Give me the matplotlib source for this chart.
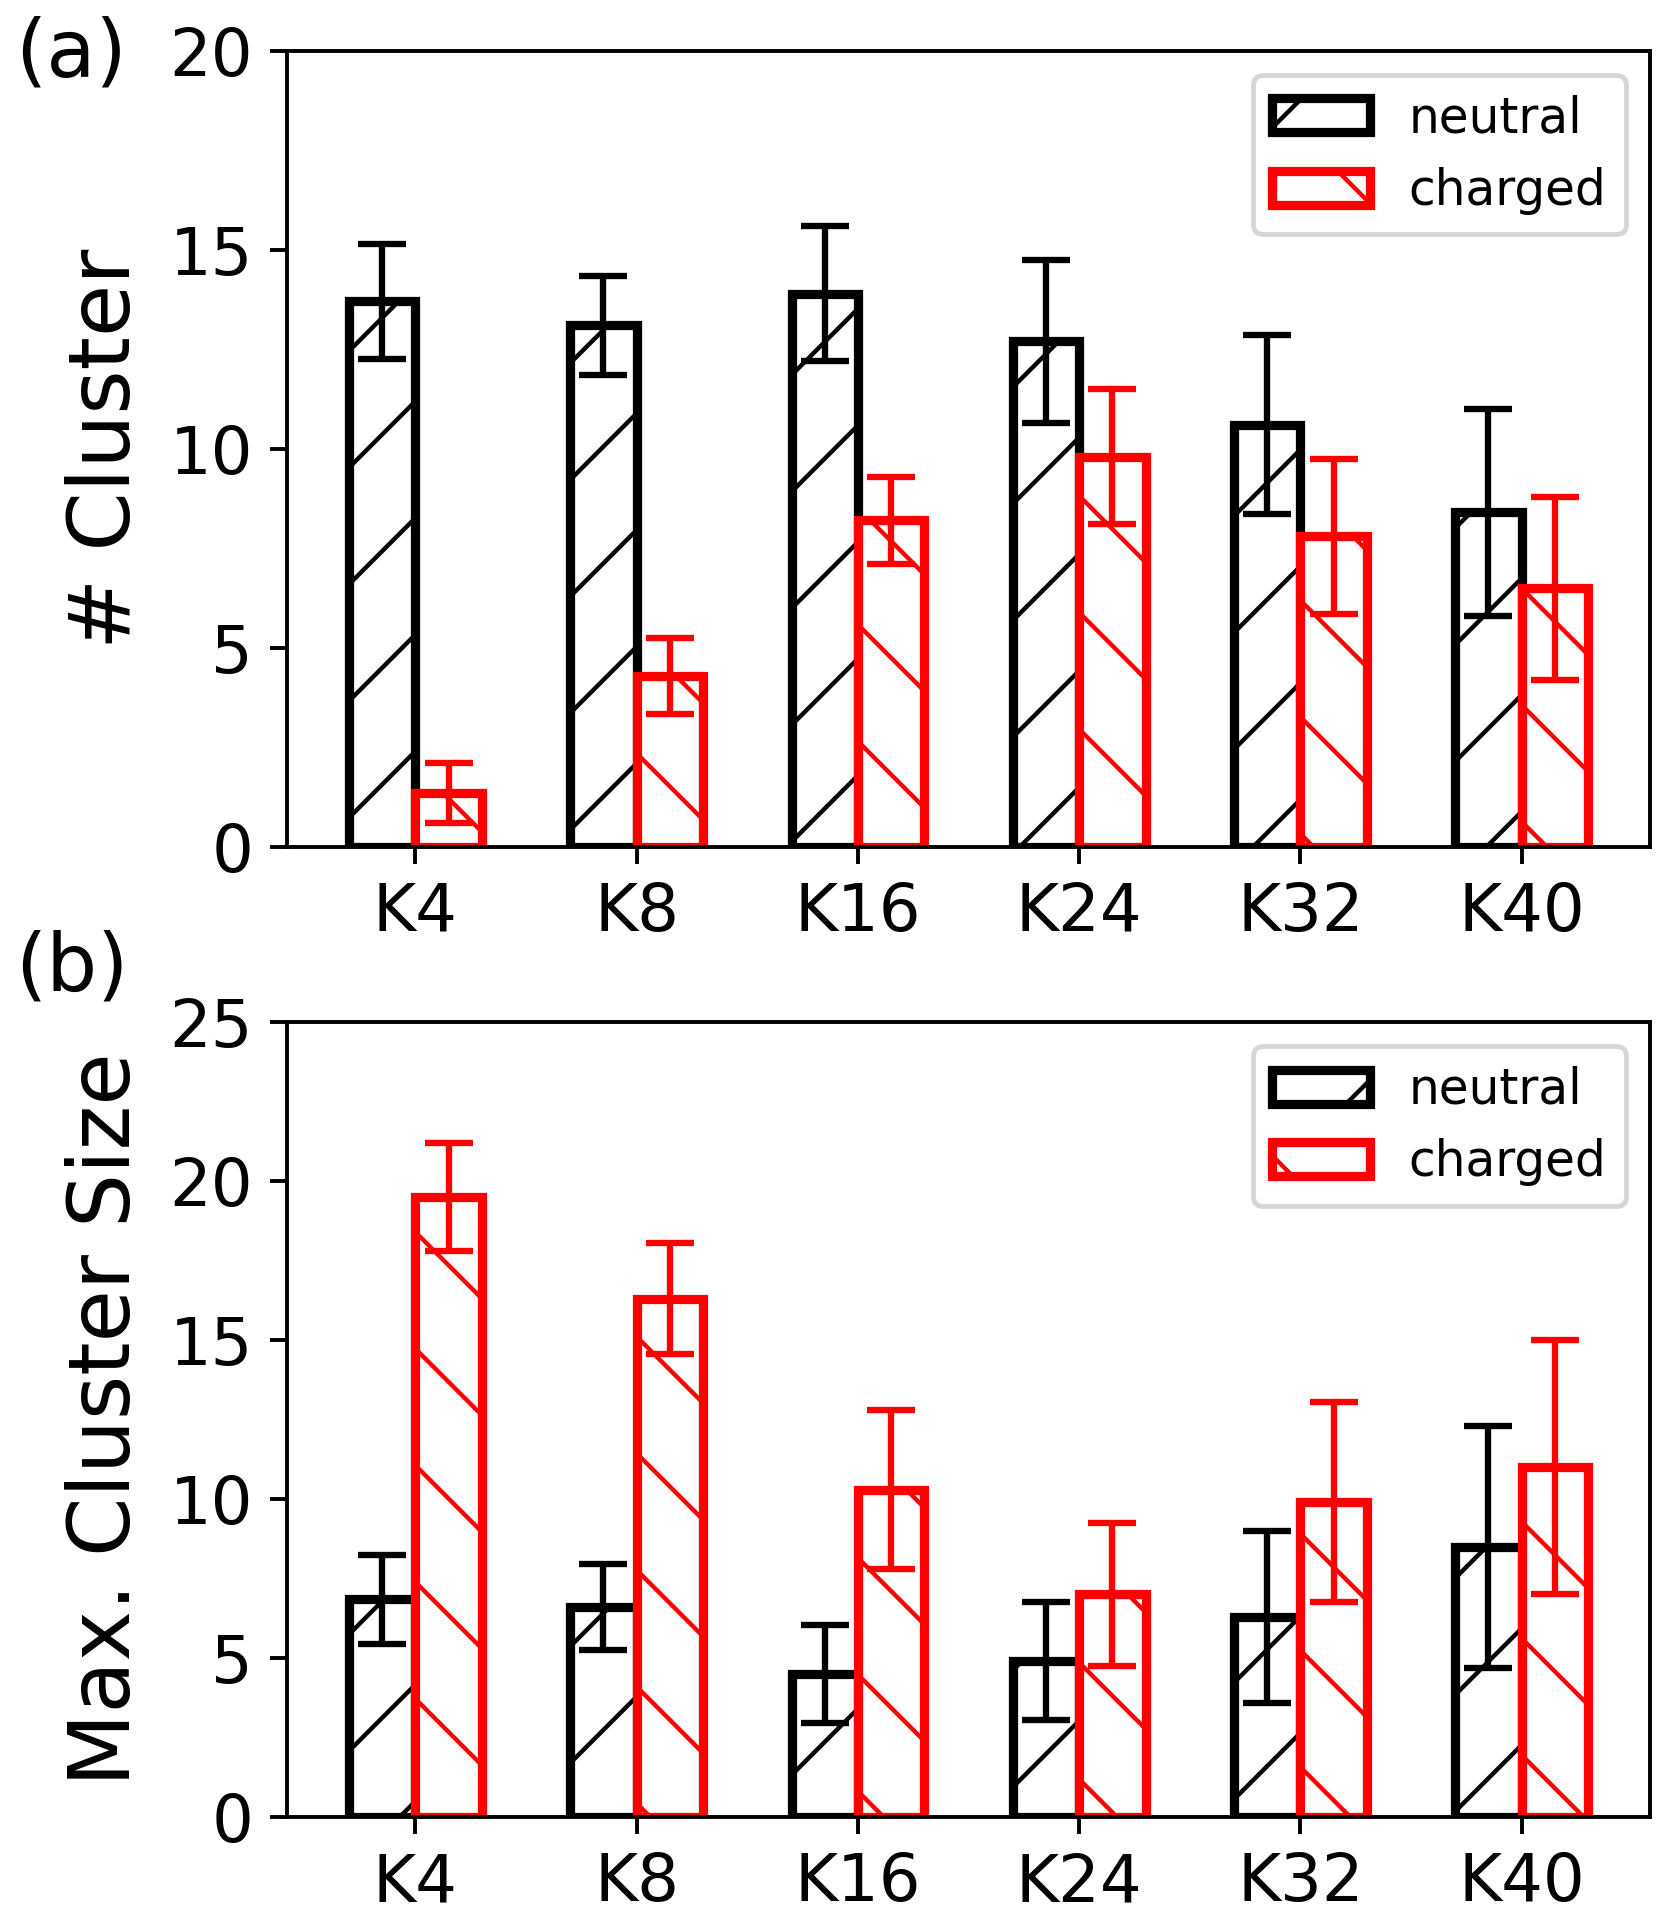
import numpy as np
import matplotlib
matplotlib.use("Agg")
import matplotlib.pyplot as plt

categories = ["K4", "K8", "K16", "K24", "K32", "K40"]

# (a) number of clusters
neutral_count = [13.7, 13.1, 13.9, 12.7, 10.6, 8.4]
neutral_count_err = [1.45, 1.25, 1.7, 2.05, 2.25, 2.6]
charged_count = [1.35, 4.3, 8.2, 9.8, 7.8, 6.5]
charged_count_err = [0.75, 0.95, 1.1, 1.7, 1.95, 2.3]

# (b) max. cluster size
neutral_size = [6.85, 6.6, 4.5, 4.9, 6.3, 8.5]
neutral_size_err = [1.4, 1.35, 1.55, 1.85, 2.7, 3.8]
charged_size = [19.5, 16.3, 10.3, 7.0, 9.9, 11.0]
charged_size_err = [1.7, 1.75, 2.5, 2.25, 3.15, 4.0]

DPI = 350
plt.rcParams["hatch.linewidth"] = 0.9

fig = plt.figure(figsize=(1666 / DPI, 1920 / DPI), dpi=DPI)
ax_a = fig.add_axes([0.1723, 0.5589, 0.9904 - 0.1723, 0.9736 - 0.5589])
ax_b = fig.add_axes([0.1723, 0.0536, 0.9904 - 0.1723, 0.4677 - 0.0536])

x = np.arange(len(categories))
width = 0.3


def draw_panel(ax, neutral, neutral_err, charged, charged_err, ylabel, ymax):
    err_style = dict(elinewidth=1.3, capsize=5, capthick=1.3)
    ax.bar(x - width / 2, neutral, width, yerr=neutral_err,
           facecolor="white", edgecolor="black", linewidth=1.9, hatch="/",
           label="neutral", error_kw=dict(ecolor="black", **err_style))
    ax.bar(x + width / 2, charged, width, yerr=charged_err,
           facecolor="white", edgecolor="red", linewidth=1.9, hatch="\\",
           label="charged", error_kw=dict(ecolor="red", **err_style))
    ax.set_xticks(x)
    ax.set_xticklabels(categories)
    ax.set_ylim(0, ymax)
    ax.set_yticks(np.arange(0, ymax + 1, 5))
    ax.tick_params(labelsize=13.5)
    ax.set_ylabel(ylabel, fontsize=17.5, labelpad=4.5)
    ax.legend(loc="upper right", fontsize=10)


draw_panel(ax_a, neutral_count, neutral_count_err, charged_count,
           charged_count_err, "# Cluster", 20)
draw_panel(ax_b, neutral_size, neutral_size_err, charged_size,
           charged_size_err, "Max. Cluster Size", 25)

fig.text(0.009, 0.9714, "(a)", fontsize=16.5, ha="left", va="center")
fig.text(0.009, 0.4958, "(b)", fontsize=16.5, ha="left", va="center")

fig.savefig("out.png", dpi=DPI)
